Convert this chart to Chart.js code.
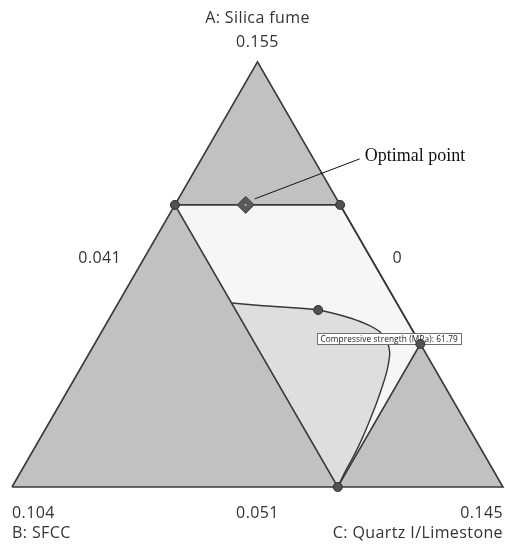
<!DOCTYPE html>
<html>
<head>
<meta charset="utf-8">
<script src="https://cdn.jsdelivr.net/npm/chart.js@4.4.1/dist/chart.umd.min.js"></script>
<style>
  html, body { margin: 0; padding: 0; background: #ffffff; }
  #wrap { width: 505px; height: 544px; }
</style>
</head>
<body>
<div id="wrap"><canvas id="tern" width="505" height="544"></canvas></div>
<script>
// Mixture components (mass fractions, total 0.196; each spans 0.104)
const componentNames = ['A: Silica fume', 'B: SFCC', 'C: Quartz I/Limestone'];
const lowLimits  = [0.051, 0.000, 0.041];
const highLimits = [0.155, 0.104, 0.145];
const vertexTickLabels = ['0.155', '0.104', '0.145'];
// bottom edge = low of A, left edge = low of C, right edge = low of B
const edgeTickLabels = ['0.051', '0.041', '0'];

// Constrained design region corners (A <= 0.120, B <= 0.035, C <= 0.110)
const regionA = [0.120, 0.120, 0.086, 0.051];
const regionB = [0.035, 0.000, 0.000, 0.035];
const regionC = [0.041, 0.076, 0.110, 0.110];

// Compressive strength contour
const contourA = [0.0960, 0.0954, 0.0949, 0.0943, 0.0927, 0.0909, 0.0889, 0.0865, 0.0840, 0.0816, 0.0791, 0.0762, 0.0723, 0.0681, 0.0632, 0.0583, 0.0547, 0.0510];
const contourB = [0.0350, 0.0293, 0.0232, 0.0175, 0.0126, 0.0091, 0.0071, 0.0068, 0.0075, 0.0089, 0.0106, 0.0128, 0.0159, 0.0194, 0.0236, 0.0281, 0.0316, 0.0350];
const contourC = [0.0650, 0.0713, 0.0779, 0.0842, 0.0907, 0.0960, 0.1000, 0.1027, 0.1045, 0.1055, 0.1063, 0.1070, 0.1078, 0.1085, 0.1092, 0.1096, 0.1097, 0.1100];

// Design point on the contour
const designA = [0.0943];
const designB = [0.0175];
const designC = [0.0842];

// Optimal mixture
const optimalA = [0.120];
const optimalB = [0.020];
const optimalC = [0.056];
const optimalLabel = 'Optimal point';

// Flag shown at region corner 3
const flagIndex = 2;
const flagText = 'Compressive strength (MPa): 61.79';

// Convert actual component amounts to equilateral-triangle coordinates
function toXY(A, B, C) {
  const span = highLimits[0] - lowLimits[0];
  const a = (A - lowLimits[0]) / span;
  const b = (B - lowLimits[1]) / span;
  const c = (C - lowLimits[2]) / span;
  const s = a + b + c;
  return { x: (c + a / 2) / s, y: (a * Math.sqrt(3) / 2) / s };
}
function series(As, Bs, Cs) {
  return As.map((v, i) => toXY(v, Bs[i], Cs[i]));
}

const vA = toXY(highLimits[0], lowLimits[1], lowLimits[2]);
const vB = toXY(lowLimits[0], highLimits[1], lowLimits[2]);
const vC = toXY(lowLimits[0], lowLimits[1], highLimits[2]);

const outline = [vB, vC, vA, vB];
const regionPts = series(regionA, regionB, regionC);
const regionLoop = regionPts.concat([regionPts[0]]);
const contourPts = series(contourA, contourB, contourC);

const LINE = '#383838';
const NONE = 'rgba(0,0,0,0)';

const datasets = [
  { // whole simplex (infeasible parts stay grey)
    data: outline, showLine: true, fill: 'shape', backgroundColor: '#c1c1c1',
    borderColor: NONE, borderWidth: 0, pointRadius: 0, tension: 0, order: 20
  },
  { // feasible design region
    data: regionLoop, showLine: true, fill: 'shape', backgroundColor: '#f6f6f6',
    borderColor: NONE, borderWidth: 0, pointRadius: 0, tension: 0, order: 19
  },
  { // area enclosed by the contour
    data: contourPts.concat([contourPts[0]]), showLine: true, fill: 'shape', backgroundColor: '#dedede',
    borderColor: NONE, borderWidth: 0, pointRadius: 0, tension: 0, order: 18
  },
  { // simplex edges
    data: outline, showLine: true, fill: false, borderColor: LINE, borderWidth: 1.6,
    pointRadius: 0, tension: 0, order: 17
  },
  { // region edges
    data: regionLoop, showLine: true, fill: false, borderColor: LINE, borderWidth: 1.6,
    pointRadius: 0, tension: 0, order: 16
  },
  { // contour line
    data: contourPts, showLine: true, fill: false, borderColor: LINE, borderWidth: 1.4,
    pointRadius: 0, tension: 0.3, order: 15
  },
  { // region corners
    data: regionPts, showLine: false, pointRadius: 4.5, pointBackgroundColor: '#525252',
    pointBorderColor: '#2f2f2f', pointBorderWidth: 1, order: 3
  },
  { // design point
    data: series(designA, designB, designC), showLine: false, pointRadius: 4.5,
    pointBackgroundColor: '#525252', pointBorderColor: '#2f2f2f', pointBorderWidth: 1, order: 2
  },
  { // optimum
    data: series(optimalA, optimalB, optimalC), showLine: false, pointStyle: 'rectRot',
    pointRadius: 8.5, pointBackgroundColor: '#5a5a5a', pointBorderColor: '#3a3a3a', pointBorderWidth: 1, order: 1
  },
  { // optimum centre mark
    data: series(optimalA, optimalB, optimalC), showLine: false, pointRadius: 1,
    pointBackgroundColor: '#bdbdbd', pointBorderWidth: 0, order: 0
  }
];

const FONT = '"Open Sans", "Noto Sans", sans-serif';

// Flag box sits above the lines but beneath the markers
const flagPlugin = {
  id: 'flagBox',
  afterDatasetDraw(chart, args) {
    if (args.index !== 5) return;
    const { ctx, scales } = chart;
    const p = regionPts[flagIndex];
    const px = scales.x.getPixelForValue(p.x);
    const py = scales.y.getPixelForValue(p.y);
    ctx.save();
    ctx.font = '8.3px ' + FONT;
    ctx.letterSpacing = '0.1px';
    const w = ctx.measureText(flagText).width + 7;
    const left = px - 103, top = py - 10.5, h = 11;
    ctx.fillStyle = '#ffffff';
    ctx.fillRect(left, top, w, h);
    ctx.strokeStyle = '#6e6e6e';
    ctx.lineWidth = 1;
    ctx.strokeRect(Math.round(left) + 0.5, Math.round(top) + 0.5, Math.round(w), h);
    ctx.fillStyle = '#222222';
    ctx.textBaseline = 'middle';
    ctx.fillText(flagText, left + 3, top + h / 2 + 0.5);
    ctx.restore();
  }
};

const labelPlugin = {
  id: 'ternLabels',
  afterDraw(chart) {
    const { ctx, scales } = chart;
    const X = v => scales.x.getPixelForValue(v);
    const Y = v => scales.y.getPixelForValue(v);
    ctx.save();
    ctx.fillStyle = '#333333';
    ctx.textBaseline = 'middle';
    ctx.font = '16px ' + FONT;
    ctx.letterSpacing = '0.4px';

    // apex A
    ctx.textAlign = 'center';
    ctx.fillText(componentNames[0], X(vA.x), Y(vA.y) - 43);
    ctx.fillText(vertexTickLabels[0], X(vA.x), Y(vA.y) - 19);
    // vertex B
    ctx.textAlign = 'left';
    ctx.fillText(vertexTickLabels[1], X(vB.x), Y(vB.y) + 26);
    ctx.fillText(componentNames[1], X(vB.x), Y(vB.y) + 46);
    // vertex C
    ctx.textAlign = 'right';
    ctx.fillText(vertexTickLabels[2], X(vC.x), Y(vC.y) + 26);
    ctx.fillText(componentNames[2], X(vC.x), Y(vC.y) + 46);
    // edge labels
    ctx.textAlign = 'center';
    ctx.fillText(edgeTickLabels[0], (X(vB.x) + X(vC.x)) / 2, Y(vB.y) + 26);
    ctx.fillText(edgeTickLabels[1], (X(vA.x) + X(vB.x)) / 2 - 35, (Y(vA.y) + Y(vB.y)) / 2 - 16);
    ctx.fillText(edgeTickLabels[2], (X(vA.x) + X(vC.x)) / 2 + 17, (Y(vA.y) + Y(vC.y)) / 2 - 16);

    // optimum callout
    const o = toXY(optimalA[0], optimalB[0], optimalC[0]);
    const ox = X(o.x), oy = Y(o.y);
    ctx.letterSpacing = '0px';
    ctx.strokeStyle = '#111111';
    ctx.lineWidth = 1;
    ctx.beginPath();
    ctx.moveTo(ox + 9, oy - 6);
    ctx.lineTo(ox + 114, oy - 46);
    ctx.stroke();
    ctx.fillStyle = '#111111';
    ctx.textAlign = 'left';
    ctx.font = '18px "Liberation Serif", "Times New Roman", serif';
    ctx.fillText(optimalLabel, ox + 119, oy - 49);
    ctx.restore();
  }
};

new Chart(document.getElementById('tern'), {
  type: 'scatter',
  data: { datasets },
  options: {
    responsive: false,
    animation: false,
    devicePixelRatio: 1,
    layout: { padding: 0, autoPadding: false },
    plugins: { legend: { display: false }, tooltip: { enabled: false } },
    scales: {
      x: { type: 'linear', display: false, min: -12 / 491, max: 493 / 491 },
      y: { type: 'linear', display: false, min: -57 / 491, max: 487 / 491 }
    }
  },
  plugins: [flagPlugin, labelPlugin]
});
</script>
</body>
</html>
